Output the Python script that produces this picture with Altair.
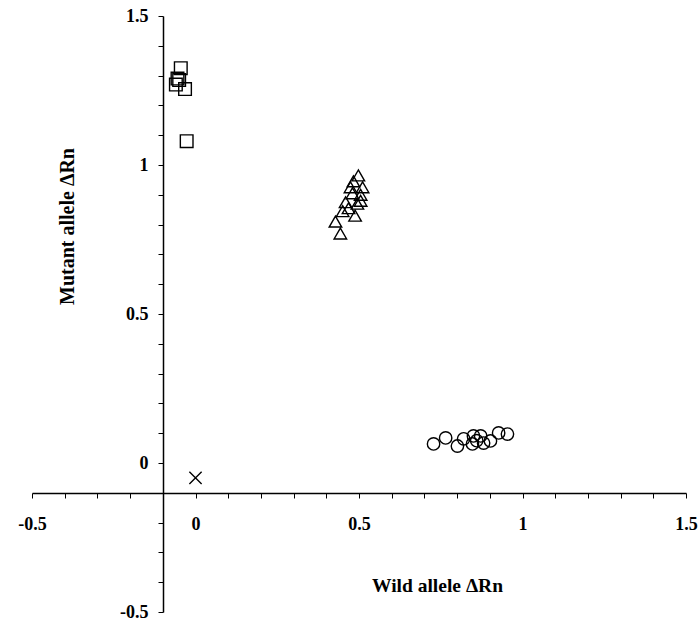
import altair as alt
import pandas as pd

# Homozygous mutant (squares)
sq_x = [-0.045, -0.055, -0.060, -0.050, -0.032, -0.027]
sq_y = [1.325, 1.290, 1.270, 1.285, 1.255, 1.080]
# Heterozygous (triangles)
tri_x = [0.498, 0.483, 0.511, 0.474, 0.480, 0.505, 0.459, 0.495, 0.468, 0.450, 0.428, 0.443, 0.505, 0.488]
tri_y = [0.965, 0.945, 0.925, 0.925, 0.905, 0.900, 0.875, 0.870, 0.855, 0.845, 0.810, 0.770, 0.880, 0.830]
# Wild type (circles)
cir_x = [0.728, 0.765, 0.801, 0.847, 0.872, 0.881, 0.902, 0.927, 0.954, 0.820, 0.850, 0.860]
cir_y = [0.064, 0.084, 0.057, 0.064, 0.091, 0.067, 0.074, 0.101, 0.097, 0.081, 0.091, 0.075]
# No template control (x)
ntc_x = [0.0]
ntc_y = [-0.05]

groups = ["square", "triangle", "circle", "ntc"]
rows = []
for g, xs, ys in zip(groups, [sq_x, tri_x, cir_x, ntc_x], [sq_y, tri_y, cir_y, ntc_y]):
    for a, b in zip(xs, ys):
        rows.append({"x": a, "y": b, "group": g})
df = pd.DataFrame(rows)

W, H = 654, 596
ticks = [round(-0.5 + 0.1 * i, 1) for i in range(21)]
label_expr = ("abs(round(datum.value*10)) % 5 == 0 ? "
              "replace(format(datum.value, '~g'), '\u2212', '-') : ''")
FONT = "Liberation Serif"

x_axis = alt.Axis(
    values=ticks, labelExpr=label_expr, offset=-round(0.2 * H), grid=False,
    title="Wild allele \u0394Rn", titleX=405, titleY=92, titleAlign="center",
    titleBaseline="middle", titleFont=FONT, titleFontSize=19.5, titleFontWeight="bold",
    titleColor="black", labelFont=FONT, labelFontSize=18, labelFontWeight="bold",
    labelColor="black", labelPadding=17, tickSize=5, tickColor="black",
    domainColor="black", domainWidth=1.5, labelFlush=False, labelOverlap=False,
)
y_axis = alt.Axis(
    values=ticks, labelExpr=label_expr, offset=-round(0.2 * W), grid=False,
    title="Mutant allele \u0394Rn", titleX=-96, titleY=210, titleAlign="center",
    titleBaseline="middle", titleAngle=270, titleFont=FONT, titleFontSize=20,
    titleFontWeight="bold", titleColor="black", labelFont=FONT, labelFontSize=18,
    labelFontWeight="bold", labelColor="black", labelPadding=10, tickSize=5,
    tickColor="black", domainColor="black", domainWidth=1.5, labelFlush=False,
    labelOverlap=False,
)

chart = alt.Chart(df).mark_point(filled=False, strokeWidth=1.4, color="black", opacity=1).encode(
    x=alt.X("x:Q", scale=alt.Scale(domain=[-0.5, 1.5], nice=False, zero=False), axis=x_axis),
    y=alt.Y("y:Q", scale=alt.Scale(domain=[-0.5, 1.5], nice=False, zero=False), axis=y_axis),
    shape=alt.Shape("group:N", scale=alt.Scale(
        domain=groups,
        range=["square", "triangle-up", "circle", "M-1,-1L1,1M-1,1L1,-1"]), legend=None),
    size=alt.Size("group:N", scale=alt.Scale(domain=groups, range=[160, 150, 140, 90]), legend=None),
).properties(
    width=W, height=H,
    padding={"left": 32, "top": 16, "right": 14, "bottom": 13},
    autosize=alt.AutoSizeParams(type="none"),
    background="white",
).configure_view(stroke=None)

chart.save("out.html", embed_options={"renderer": "svg", "actions": False})
